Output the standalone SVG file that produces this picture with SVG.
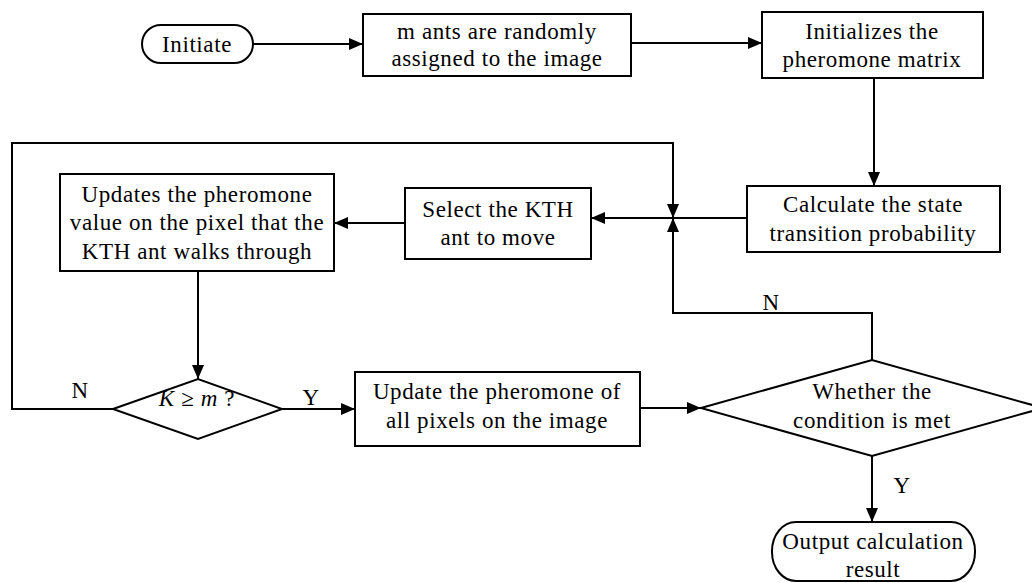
<svg xmlns="http://www.w3.org/2000/svg" width="1032" height="583" viewBox="0 0 1032 583">
<defs>
<marker id="ah" markerUnits="userSpaceOnUse" markerWidth="14" markerHeight="12" refX="14" refY="6" orient="auto">
<path d="M0,0 L14,6 L0,12 Z" fill="#000"/>
</marker>
<style>
.n{fill:#fff;stroke:#000;stroke-width:2}
.t{font-family:"Liberation Serif","Times New Roman",serif;font-size:23px;letter-spacing:0.6px;fill:#000;text-anchor:middle}
.c{fill:none;stroke:#000;stroke-width:2}
.a{marker-end:url(#ah)}
</style>
</defs>
<rect width="1032" height="583" fill="#fff"/>
<g id="connectors">
<line class="c a" x1="253" y1="44" x2="363" y2="44"/>
<line class="c a" x1="631" y1="43" x2="762" y2="43"/>
<line class="c a" x1="874" y1="78" x2="874" y2="186"/>
<line class="c a" x1="747" y1="218" x2="591" y2="218"/>
<polyline class="c a" points="113,409 12,409 12,143 673,143 673,218"/>
<polyline class="c a" points="872,360 872,313 673,313 673,218"/>
<line class="c a" x1="405" y1="223" x2="334" y2="223"/>
<line class="c a" x1="198" y1="271" x2="198" y2="379"/>
<line class="c a" x1="282" y1="409" x2="355" y2="409"/>
<line class="c a" x1="640" y1="408" x2="701" y2="408"/>
<line class="c a" x1="872" y1="456" x2="872" y2="522"/>
<text class="t" x="80" y="398">N</text>
<text class="t" x="311" y="405">Y</text>
<text class="t" x="771" y="310">N</text>
<text class="t" x="902" y="493">Y</text>
</g>
<g id="initiate">
<rect class="n" x="142" y="25" width="111" height="38" rx="19"/>
<text class="t" x="197" y="52">Initiate</text>
</g>
<g id="assign">
<rect class="n" x="363" y="14" width="268" height="62"/>
<text class="t" x="497" y="39">m ants are randomly</text>
<text class="t" x="497" y="66">assigned to the image</text>
</g>
<g id="init-matrix">
<rect class="n" x="762" y="12" width="221" height="66"/>
<text class="t" x="872" y="39">Initializes the</text>
<text class="t" x="872" y="67">pheromone matrix</text>
</g>
<g id="calc">
<rect class="n" x="747" y="186" width="253" height="66"/>
<text class="t" x="873" y="212">Calculate the state</text>
<text class="t" x="873" y="241">transition probability</text>
</g>
<g id="select">
<rect class="n" x="405" y="188" width="186" height="71"/>
<text class="t" x="498" y="217">Select the KTH</text>
<text class="t" x="498" y="245">ant to move</text>
</g>
<g id="update-pixel">
<rect class="n" x="60" y="174" width="274" height="97"/>
<text class="t" x="197" y="202">Updates the pheromone</text>
<text class="t" x="197" y="230">value on the pixel that the</text>
<text class="t" x="197" y="259">KTH ant walks through</text>
</g>
<g id="k-decision">
<polygon class="n" points="113,409 198,379 282,409 198,439"/>
<text class="t" x="197" y="406"><tspan font-style="italic">K</tspan> ≥ <tspan font-style="italic">m</tspan> ?</text>
</g>
<g id="update-all">
<rect class="n" x="355" y="372" width="285" height="74"/>
<text class="t" x="497" y="399">Update the pheromone of</text>
<text class="t" x="497" y="428">all pixels on the image</text>
</g>
<g id="condition">
<polygon class="n" points="701,408 872,360 1043,408 872,456"/>
<text class="t" x="872" y="399">Whether the</text>
<text class="t" x="872" y="428">condition is met</text>
</g>
<g id="output">
<rect class="n" x="772" y="522" width="203" height="59" rx="24" ry="29"/>
<text class="t" x="873" y="549">Output calculation</text>
<text class="t" x="873" y="577">result</text>
</g>
</svg>
